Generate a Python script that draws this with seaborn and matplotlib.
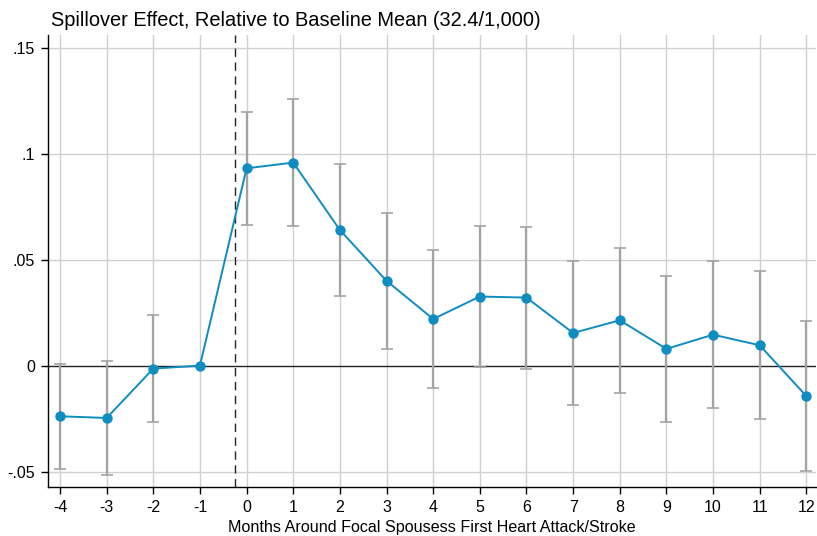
import matplotlib
matplotlib.use("Agg")
import matplotlib.pyplot as plt
import seaborn as sns
import pandas as pd
import numpy as np

months = [-4, -3, -2, -1, 0, 1, 2, 3, 4, 5, 6, 7, 8, 9, 10, 11, 12]
estimate = [-0.0239, -0.0247, -0.0014, 0.0, 0.0931, 0.0958, 0.0640, 0.0400, 0.0220, 0.0326,
            0.0321, 0.0154, 0.0214, 0.0079, 0.0146, 0.0096, -0.0144]
ci_low = [-0.0487, -0.0514, -0.0264, np.nan, 0.0662, 0.0657, 0.0330, 0.0079, -0.0105, -0.0008,
          -0.0014, -0.0185, -0.0127, -0.0266, -0.0200, -0.0251, -0.0497]
ci_high = [0.0009, 0.0021, 0.0239, np.nan, 0.1197, 0.1258, 0.0953, 0.0722, 0.0547, 0.0659,
           0.0656, 0.0492, 0.0557, 0.0425, 0.0492, 0.0445, 0.0211]
y_ticks = [-0.05, 0, 0.05, 0.1, 0.15]
y_tick_labels = ["-.05", "0", ".05", ".1", ".15"]
title = "Spillover Effect, Relative to Baseline Mean (32.4/1,000)"
xlabel = "Months Around Focal Spousess First Heart Attack/Stroke"

df = pd.DataFrame({"month": months, "est": estimate, "lo": ci_low, "hi": ci_high})

sns.set_style("white")
plt.rcParams["font.family"] = ["Liberation Sans", "DejaVu Sans"]
plt.rcParams["text.color"] = "black"
plt.rcParams["xtick.color"] = "black"
plt.rcParams["ytick.color"] = "black"
plt.rcParams["axes.labelcolor"] = "black"

fig = plt.figure(figsize=(8.17, 5.36), dpi=100)
ax = fig.add_axes([0.0584, 0.0909, 0.9406, 0.8438])

grid_c = "#d0d0d0"
for m in months:
    ax.axvline(m, color=grid_c, lw=1.0, zorder=0)
for t in y_ticks:
    if t != 0:
        ax.axhline(t, color=grid_c, lw=1.0, zorder=0)
ax.axhline(0, color="#222222", lw=1.0, zorder=1)
ax.axvline(-0.25, color="#222222", lw=1.0, ls=(0, (6, 4)), zorder=1)

ci = df.dropna()
ax.errorbar(ci["month"], ci["est"],
            yerr=[ci["est"] - ci["lo"], ci["hi"] - ci["est"]],
            fmt="none", ecolor="#a3a3a3", elinewidth=1.6, capsize=4.5, capthick=1.2, zorder=2)

sns.lineplot(data=df, x="month", y="est", ax=ax, color="#0f8cc0", lw=1.4,
             marker="o", markersize=7.5, markeredgewidth=0, zorder=3)

ax.set_xlim(-4.263, 12.21)
ax.set_ylim(-0.0574, 0.156)
ax.set_xticks(months)
ax.set_xticklabels([str(m) for m in months], fontsize=11.5)
ax.set_yticks(y_ticks)
ax.set_yticklabels(y_tick_labels, fontsize=11.5)
ax.tick_params(axis="both", direction="out", length=5, width=1, color="black",
               bottom=True, left=True, pad=4)
for s in ["top", "right"]:
    ax.spines[s].set_visible(False)
for s in ["left", "bottom"]:
    ax.spines[s].set_color("black")
    ax.spines[s].set_linewidth(1.0)
ax.set_xlabel(xlabel, fontsize=11.6, labelpad=4)
ax.set_ylabel("")
fig.text(0.062, 0.952, title, fontsize=14.4, ha="left", va="baseline")

fig.savefig("out.png", dpi=100)
